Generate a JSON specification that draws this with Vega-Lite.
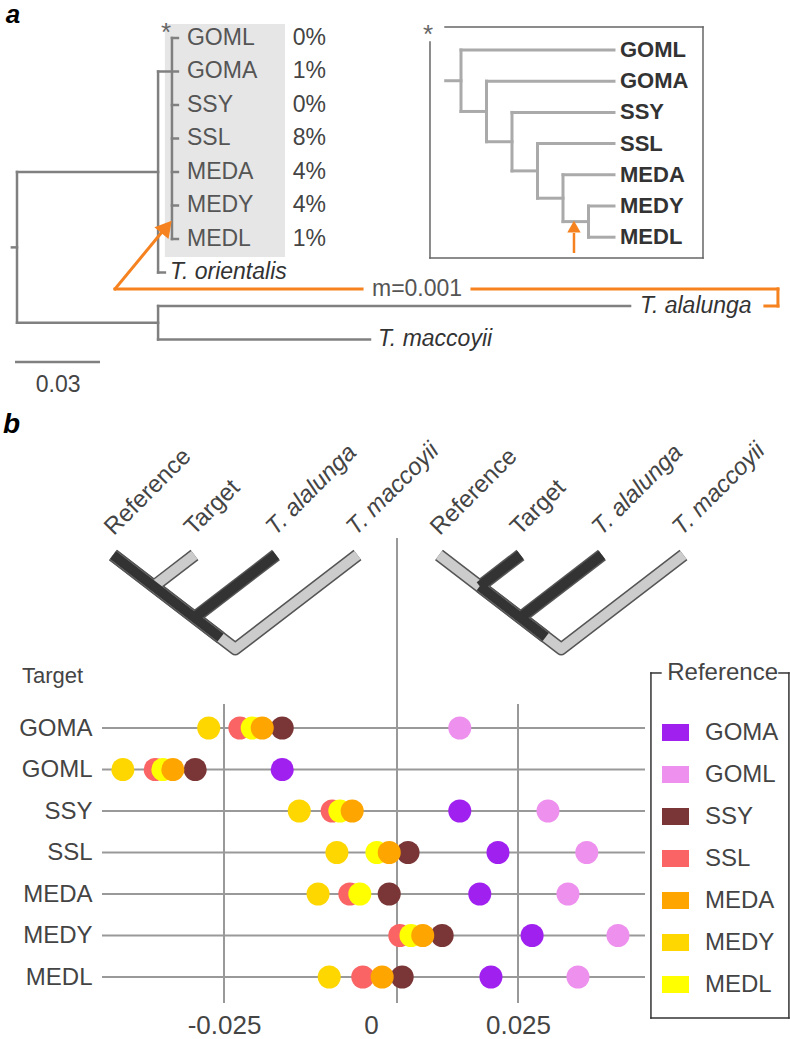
{
  "$schema": "https://vega.github.io/schema/vega-lite/v6.json",
  "padding": 0,
  "background": "white",
  "spacing": 0,
  "config": {
    "view": {"stroke": null},
    "font": "Liberation Sans",
    "text": {"font": "Liberation Sans"},
    "axis": {"domain": false, "ticks": false, "grid": false, "labelFont": "Liberation Sans", "labelColor": "#444444"},
    "axisX": {"labelFontSize": 26, "labelPadding": 9},
    "axisY": {"labelFontSize": 24, "labelPadding": 10, "minExtent": 102},
    "legend": {"labelFont": "Liberation Sans", "titleFont": "Liberation Sans"},
    "concat": {"spacing": 0}
  },
  "datasets": {
    "grayBox": [{"x": 0.0522, "x2": 0.0946, "y": 0.582, "y2": 7.537}],
    "mainSeg": [
      {"x": -0.0018, "x2": 0, "y": 7.25, "y2": 7.25},
      {"x": 0, "x2": 0, "y": 5, "y2": 9.5},
      {"x": 0, "x2": 0.0498, "y": 5, "y2": 5},
      {"x": 0.0498, "x2": 0.0498, "y": 2, "y2": 8},
      {"x": 0.0498, "x2": 0.0568, "y": 2, "y2": 2},
      {"x": 0.0547, "x2": 0.0547, "y": 1, "y2": 7},
      {"x": 0.0547, "x2": 0.0568, "y": 1, "y2": 1},
      {"x": 0.0547, "x2": 0.0568, "y": 3, "y2": 3},
      {"x": 0.0547, "x2": 0.0568, "y": 4, "y2": 4},
      {"x": 0.0547, "x2": 0.0568, "y": 5, "y2": 5},
      {"x": 0.0547, "x2": 0.0568, "y": 6, "y2": 6},
      {"x": 0.0547, "x2": 0.0568, "y": 7, "y2": 7},
      {"x": 0.0498, "x2": 0.0522, "y": 8, "y2": 8},
      {"x": 0, "x2": 0.0498, "y": 9.5, "y2": 9.5},
      {"x": 0.0498, "x2": 0.0498, "y": 9, "y2": 10},
      {"x": 0.0498, "x2": 0.2164, "y": 9, "y2": 9},
      {"x": 0.0498, "x2": 0.1246, "y": 10, "y2": 10}
    ],
    "scaleBar": [{"x": -0.0007, "x2": 0.0293, "y": 10.67, "y2": 10.67}],
    "scaleLabel": [{"x": 0.0145, "y": 11.36, "text": "0.03"}],
    "tipLabels": [
      {"x": 0.06, "y": 1, "text": "GOML"},
      {"x": 0.06, "y": 2, "text": "GOMA"},
      {"x": 0.06, "y": 3, "text": "SSY"},
      {"x": 0.06, "y": 4, "text": "SSL"},
      {"x": 0.06, "y": 5, "text": "MEDA"},
      {"x": 0.06, "y": 6, "text": "MEDY"},
      {"x": 0.06, "y": 7, "text": "MEDL"}
    ],
    "pctLabels": [
      {"x": 0.1091, "y": 1, "text": "0%"},
      {"x": 0.1091, "y": 2, "text": "1%"},
      {"x": 0.1091, "y": 3, "text": "0%"},
      {"x": 0.1091, "y": 4, "text": "8%"},
      {"x": 0.1091, "y": 5, "text": "4%"},
      {"x": 0.1091, "y": 6, "text": "4%"},
      {"x": 0.1091, "y": 7, "text": "1%"}
    ],
    "species": [
      {"x": 0.054, "y": 8, "text": "T. orientalis"},
      {"x": 0.2199, "y": 9, "text": "T. alalunga"},
      {"x": 0.1274, "y": 10, "text": "T. maccoyii"}
    ],
    "migSeg": [
      {"x": 0.0346, "x2": 0.0515, "y": 8.49, "y2": 6.76},
      {"x": 0.0346, "x2": 0.1218, "y": 8.49, "y2": 8.49},
      {"x": 0.1606, "x2": 0.2686, "y": 8.49, "y2": 8.49},
      {"x": 0.2686, "x2": 0.2686, "y": 8.49, "y2": 9.0},
      {"x": 0.264, "x2": 0.2686, "y": 9.0, "y2": 9.0}
    ],
    "migArrow": [{"x": 0.0528, "y": 6.64}],
    "migLabel": [{"x": 0.1253, "y": 8.49, "text": "m=0.001"}],
    "starMain": [{"x": 0.0526, "y": 0.85, "text": "*"}],
    "panelLabelA": [{"x": -0.0014, "y": 0.313, "text": "a"}],
    "insetBox": [
      {"x": -0.627, "x2": 9.49, "y": 0.263, "y2": 0.263},
      {"x": 9.49, "x2": 9.49, "y": 0.263, "y2": 7.667},
      {"x": -1.216, "x2": 9.49, "y": 7.667, "y2": 7.667},
      {"x": -1.216, "x2": -1.216, "y": 0.744, "y2": 7.667}
    ],
    "insetSeg": [
      {"x": -0.6, "x2": 0, "y": 1.985, "y2": 1.985},
      {"x": 0, "x2": 0, "y": 1, "y2": 2.97},
      {"x": 0, "x2": 6, "y": 1, "y2": 1},
      {"x": 0, "x2": 1, "y": 2.97, "y2": 2.97},
      {"x": 1, "x2": 1, "y": 2, "y2": 3.94},
      {"x": 1, "x2": 6, "y": 2, "y2": 2},
      {"x": 1, "x2": 2, "y": 3.94, "y2": 3.94},
      {"x": 2, "x2": 2, "y": 3, "y2": 4.875},
      {"x": 2, "x2": 6, "y": 3, "y2": 3},
      {"x": 2, "x2": 3, "y": 4.875, "y2": 4.875},
      {"x": 3, "x2": 3, "y": 4, "y2": 5.75},
      {"x": 3, "x2": 6, "y": 4, "y2": 4},
      {"x": 3, "x2": 4, "y": 5.75, "y2": 5.75},
      {"x": 4, "x2": 4, "y": 5, "y2": 6.5},
      {"x": 4, "x2": 6, "y": 5, "y2": 5},
      {"x": 4, "x2": 5, "y": 6.5, "y2": 6.5},
      {"x": 5, "x2": 5, "y": 6, "y2": 7},
      {"x": 5, "x2": 6, "y": 6, "y2": 6},
      {"x": 5, "x2": 6, "y": 7, "y2": 7}
    ],
    "insetLabels": [
      {"x": 6.235, "y": 1, "text": "GOML"},
      {"x": 6.235, "y": 2, "text": "GOMA"},
      {"x": 6.235, "y": 3, "text": "SSY"},
      {"x": 6.235, "y": 4, "text": "SSL"},
      {"x": 6.235, "y": 5, "text": "MEDA"},
      {"x": 6.235, "y": 6, "text": "MEDY"},
      {"x": 6.235, "y": 7, "text": "MEDL"}
    ],
    "insetArrowLine": [{"x": 4.431, "x2": 4.431, "y": 7.506, "y2": 6.865}],
    "insetArrowHead": [{"x": 4.431, "y": 6.66}],
    "insetStar": [{"x": -1.294, "y": 0.52, "text": "*"}],
    "divider": [{"p": 3.485, "h": -0.272, "h2": 7.157}],
    "legendBox": [
      {"p": 6.601, "p2": 6.724, "h": 1.885, "h2": 1.885},
      {"p": 8.172, "p2": 8.294, "h": 1.885, "h2": 1.885},
      {"p": 8.294, "p2": 8.294, "h": 1.885, "h2": 7.396},
      {"p": 6.601, "p2": 8.294, "h": 7.396, "h2": 7.396},
      {"p": 6.601, "p2": 6.601, "h": 1.885, "h2": 7.396}
    ],
    "cladoPaths": [
      {"path": "L_V", "order": 0, "p": 0, "h": 0, "tone": "light"},
      {"path": "L_V", "order": 1, "p": 1.5, "h": 1.5, "tone": "light"},
      {"path": "L_V", "order": 2, "p": 3, "h": 0, "tone": "light"},
      {"path": "L_T", "order": 0, "p": 1, "h": 0, "tone": "light"},
      {"path": "L_T", "order": 1, "p": 0.5, "h": 0.5, "tone": "light"},
      {"path": "L_A", "order": 0, "p": 2, "h": 0, "tone": "dark"},
      {"path": "L_A", "order": 1, "p": 1, "h": 1, "tone": "dark"},
      {"path": "L_R", "order": 0, "p": 0, "h": 0, "tone": "dark"},
      {"path": "L_R", "order": 1, "p": 1.32, "h": 1.32, "tone": "dark"},
      {"path": "R_V", "order": 0, "p": 4, "h": 0, "tone": "light"},
      {"path": "R_V", "order": 1, "p": 5.5, "h": 1.5, "tone": "light"},
      {"path": "R_V", "order": 2, "p": 7, "h": 0, "tone": "light"},
      {"path": "R_T", "order": 0, "p": 5, "h": 0, "tone": "dark"},
      {"path": "R_T", "order": 1, "p": 4.5, "h": 0.5, "tone": "dark"},
      {"path": "R_A", "order": 0, "p": 6, "h": 0, "tone": "dark"},
      {"path": "R_A", "order": 1, "p": 5, "h": 1, "tone": "dark"},
      {"path": "R_R", "order": 0, "p": 4.5, "h": 0.5, "tone": "dark"},
      {"path": "R_R", "order": 1, "p": 5.31, "h": 1.31, "tone": "dark"}
    ],
    "cladoNames": [
      {"p": 0.01, "h": -0.3, "text": "Reference"},
      {"p": 0.99, "h": -0.3, "text": "Target"},
      {"p": 4.01, "h": -0.3, "text": "Reference"},
      {"p": 4.99, "h": -0.3, "text": "Target"}
    ],
    "cladoSpecies": [
      {"p": 1.99, "h": -0.3, "text": "T. alalunga"},
      {"p": 2.98, "h": -0.3, "text": "T. maccoyii"},
      {"p": 5.99, "h": -0.3, "text": "T. alalunga"},
      {"p": 6.98, "h": -0.3, "text": "T. maccoyii"}
    ],
    "panelLabelB": [{"p": -1.35, "h": -2.077, "text": "b"}],
    "targetTitle": [{"p": -1.117, "h": 1.933, "text": "Target"}],
    "targets": [
      {"target": "GOMA"}, {"target": "GOML"}, {"target": "SSY"}, {"target": "SSL"},
      {"target": "MEDA"}, {"target": "MEDY"}, {"target": "MEDL"}
    ],
    "grid": [
      {"v": -0.025, "top": "GOMA", "bottom": "MEDL"},
      {"v": 0.025, "top": "GOMA", "bottom": "MEDL"}
    ],
    "dots": [
      {"target": "GOMA", "ref": "SSY", "v": -0.0151},
      {"target": "GOMA", "ref": "SSL", "v": -0.0223},
      {"target": "GOMA", "ref": "MEDL", "v": -0.0202},
      {"target": "GOMA", "ref": "MEDA", "v": -0.0185},
      {"target": "GOMA", "ref": "MEDY", "v": -0.0276},
      {"target": "GOMA", "ref": "GOML", "v": 0.0151},
      {"target": "GOML", "ref": "SSY", "v": -0.0299},
      {"target": "GOML", "ref": "SSL", "v": -0.0367},
      {"target": "GOML", "ref": "MEDL", "v": -0.0354},
      {"target": "GOML", "ref": "MEDA", "v": -0.0337},
      {"target": "GOML", "ref": "MEDY", "v": -0.0422},
      {"target": "GOML", "ref": "GOMA", "v": -0.0151},
      {"target": "SSY", "ref": "SSL", "v": -0.0066},
      {"target": "SSY", "ref": "MEDL", "v": -0.0053},
      {"target": "SSY", "ref": "MEDA", "v": -0.0032},
      {"target": "SSY", "ref": "MEDY", "v": -0.0122},
      {"target": "SSY", "ref": "GOML", "v": 0.0301},
      {"target": "SSY", "ref": "GOMA", "v": 0.0151},
      {"target": "SSL", "ref": "SSY", "v": 0.0063},
      {"target": "SSL", "ref": "MEDL", "v": 0.001},
      {"target": "SSL", "ref": "MEDA", "v": 0.0031},
      {"target": "SSL", "ref": "MEDY", "v": -0.0058},
      {"target": "SSL", "ref": "GOML", "v": 0.0367},
      {"target": "SSL", "ref": "GOMA", "v": 0.0216},
      {"target": "MEDA", "ref": "SSY", "v": 0.0031},
      {"target": "MEDA", "ref": "SSL", "v": -0.0036},
      {"target": "MEDA", "ref": "MEDL", "v": -0.0019},
      {"target": "MEDA", "ref": "MEDY", "v": -0.009},
      {"target": "MEDA", "ref": "GOML", "v": 0.0335},
      {"target": "MEDA", "ref": "GOMA", "v": 0.0185},
      {"target": "MEDY", "ref": "SSY", "v": 0.0121},
      {"target": "MEDY", "ref": "SSL", "v": 0.0049},
      {"target": "MEDY", "ref": "MEDL", "v": 0.0068},
      {"target": "MEDY", "ref": "MEDA", "v": 0.0088},
      {"target": "MEDY", "ref": "GOML", "v": 0.042},
      {"target": "MEDY", "ref": "GOMA", "v": 0.0274},
      {"target": "MEDL", "ref": "SSY", "v": 0.0053},
      {"target": "MEDL", "ref": "SSL", "v": -0.0014},
      {"target": "MEDL", "ref": "MEDA", "v": 0.0019},
      {"target": "MEDL", "ref": "MEDY", "v": -0.0071},
      {"target": "MEDL", "ref": "GOML", "v": 0.0352},
      {"target": "MEDL", "ref": "GOMA", "v": 0.0204}
    ]
  },
  "vconcat": [
    {
      "width": 688,
      "height": 400,
      "layer": [
        {
          "encoding": {
            "x": {"field": "x", "type": "quantitative", "scale": {"domain": [0.030003, 0.27286], "nice": false, "zero": false}, "axis": null},
            "y": {"field": "y", "type": "quantitative", "scale": {"domain": [-0.1343, 11.806], "nice": false, "zero": false, "reverse": true}, "axis": null}
          },
          "layer": [
            {"data": {"name": "grayBox"}, "mark": {"type": "rect", "color": "#e6e6e6"}, "encoding": {"x2": {"field": "x2"}, "y2": {"field": "y2"}}},
            {"data": {"name": "mainSeg"}, "mark": {"type": "rule", "color": "#808080", "strokeWidth": 2.5, "strokeCap": "square"}, "encoding": {"x2": {"field": "x2"}, "y2": {"field": "y2"}}},
            {"data": {"name": "scaleBar"}, "mark": {"type": "rule", "color": "#808080", "strokeWidth": 2.5}, "encoding": {"x2": {"field": "x2"}, "y2": {"field": "y2"}}},
            {"data": {"name": "migSeg"}, "mark": {"type": "rule", "color": "#f5821f", "strokeWidth": 3, "strokeCap": "square"}, "encoding": {"x2": {"field": "x2"}, "y2": {"field": "y2"}}},
            {"data": {"name": "migArrow"}, "mark": {"type": "point", "shape": "triangle-up", "filled": true, "opacity": 1, "color": "#f5821f", "size": 340, "angle": 40}},
            {"data": {"name": "scaleLabel"}, "mark": {"type": "text", "fontSize": 23, "color": "#444444", "align": "center", "baseline": "middle"}, "encoding": {"text": {"field": "text"}}},
            {"data": {"name": "tipLabels"}, "mark": {"type": "text", "fontSize": 23, "color": "#555555", "align": "left", "baseline": "middle"}, "encoding": {"text": {"field": "text"}}},
            {"data": {"name": "pctLabels"}, "mark": {"type": "text", "fontSize": 23, "color": "#444444", "align": "right", "baseline": "middle"}, "encoding": {"text": {"field": "text"}}},
            {"data": {"name": "species"}, "mark": {"type": "text", "fontSize": 23, "fontStyle": "italic", "color": "#333333", "align": "left", "baseline": "middle"}, "encoding": {"text": {"field": "text"}}},
            {"data": {"name": "migLabel"}, "mark": {"type": "text", "fontSize": 23, "color": "#555555", "align": "left", "baseline": "middle"}, "encoding": {"text": {"field": "text"}}},
            {"data": {"name": "starMain"}, "mark": {"type": "text", "fontSize": 26, "color": "#666666", "align": "center", "baseline": "middle"}, "encoding": {"text": {"field": "text"}}},
            {"data": {"name": "panelLabelA"}, "mark": {"type": "text", "fontSize": 26, "fontWeight": "bold", "fontStyle": "italic", "color": "#000000", "align": "center", "baseline": "middle"}, "encoding": {"text": {"field": "text"}}}
          ]
        },
        {
          "encoding": {
            "x": {"field": "x", "type": "quantitative", "scale": {"domain": [-14.078, 12.902], "nice": false, "zero": false}, "axis": null},
            "y": {"field": "y", "type": "quantitative", "scale": {"domain": [-0.6026, 12.218], "nice": false, "zero": false, "reverse": true}, "axis": null}
          },
          "layer": [
            {"data": {"name": "insetBox"}, "mark": {"type": "rule", "color": "#666666", "strokeWidth": 1.5, "strokeCap": "square"}, "encoding": {"x2": {"field": "x2"}, "y2": {"field": "y2"}}},
            {"data": {"name": "insetSeg"}, "mark": {"type": "rule", "color": "#aaaaaa", "strokeWidth": 3, "strokeCap": "square"}, "encoding": {"x2": {"field": "x2"}, "y2": {"field": "y2"}}},
            {"data": {"name": "insetArrowLine"}, "mark": {"type": "rule", "color": "#f5821f", "strokeWidth": 2.5}, "encoding": {"x2": {"field": "x2"}, "y2": {"field": "y2"}}},
            {"data": {"name": "insetArrowHead"}, "mark": {"type": "point", "shape": "triangle-up", "filled": true, "opacity": 1, "color": "#f5821f", "size": 180}},
            {"data": {"name": "insetLabels"}, "mark": {"type": "text", "fontSize": 22, "fontWeight": "bold", "color": "#333333", "align": "left", "baseline": "middle"}, "encoding": {"text": {"field": "text"}}},
            {"data": {"name": "insetStar"}, "mark": {"type": "text", "fontSize": 26, "color": "#666666", "align": "center", "baseline": "middle"}, "encoding": {"text": {"field": "text"}}}
          ]
        }
      ],
      "resolve": {"scale": {"x": "independent", "y": "independent"}}
    },
    {
      "width": 543,
      "height": 603,
      "layer": [
        {
          "encoding": {
            "x": {"field": "p", "type": "quantitative", "scale": {"domain": [-0.135, 6.528], "nice": false, "zero": false}, "axis": null},
            "y": {"field": "h", "type": "quantitative", "scale": {"domain": [-2.476, 7.157], "nice": false, "zero": false, "reverse": true}, "axis": null}
          },
          "layer": [
            {"data": {"name": "divider"}, "mark": {"type": "rule", "color": "#999999", "strokeWidth": 2}, "encoding": {"y2": {"field": "h2"}}},
            {"data": {"name": "legendBox"}, "mark": {"type": "rule", "color": "#333333", "strokeWidth": 1.5, "strokeCap": "square"}, "encoding": {"x2": {"field": "p2"}, "y2": {"field": "h2"}}},
            {"data": {"name": "cladoPaths"}, "mark": {"type": "line", "color": "#555555", "strokeWidth": 13, "strokeCap": "butt", "strokeJoin": "round"}, "encoding": {"detail": {"field": "path", "type": "nominal"}, "order": {"field": "order", "type": "quantitative"}}},
            {"data": {"name": "cladoPaths"}, "transform": [{"filter": "datum.tone == 'light'"}], "mark": {"type": "line", "color": "#cccccc", "strokeWidth": 10, "strokeCap": "butt", "strokeJoin": "round"}, "encoding": {"detail": {"field": "path", "type": "nominal"}, "order": {"field": "order", "type": "quantitative"}}},
            {"data": {"name": "cladoPaths"}, "transform": [{"filter": "datum.tone == 'dark'"}], "mark": {"type": "line", "color": "#333333", "strokeWidth": 10, "strokeCap": "butt", "strokeJoin": "round"}, "encoding": {"detail": {"field": "path", "type": "nominal"}, "order": {"field": "order", "type": "quantitative"}}},
            {"data": {"name": "cladoNames"}, "mark": {"type": "text", "fontSize": 24, "color": "#444444", "align": "left", "baseline": "alphabetic", "angle": 315}, "encoding": {"text": {"field": "text"}}},
            {"data": {"name": "cladoSpecies"}, "mark": {"type": "text", "fontSize": 24, "fontStyle": "italic", "color": "#444444", "align": "left", "baseline": "alphabetic", "angle": 315}, "encoding": {"text": {"field": "text"}}},
            {"data": {"name": "panelLabelB"}, "mark": {"type": "text", "fontSize": 28, "fontWeight": "bold", "fontStyle": "italic", "color": "#000000", "align": "left", "baseline": "middle"}, "encoding": {"text": {"field": "text"}}},
            {"data": {"name": "targetTitle"}, "mark": {"type": "text", "fontSize": 22, "color": "#444444", "align": "left", "baseline": "middle"}, "encoding": {"text": {"field": "text"}}}
          ]
        },
        {
          "layer": [
            {
              "data": {"name": "targets"},
              "mark": {"type": "rule", "color": "#999999", "strokeWidth": 2},
              "encoding": {
                "y": {"field": "target", "type": "nominal", "title": null, "scale": {"type": "point", "domain": ["GOMA", "GOML", "SSY", "SSL", "MEDA", "MEDY", "MEDL"], "range": [328, 577], "padding": 0}}
              }
            },
            {
              "data": {"name": "grid"},
              "mark": {"type": "rule", "color": "#999999", "strokeWidth": 2, "yOffset": -24, "y2Offset": 26},
              "encoding": {
                "x": {"field": "v", "type": "quantitative", "title": null, "scale": {"domain": [-0.04575, 0.0466], "nice": false, "zero": false}, "axis": {"values": [-0.025, 0, 0.025], "labelExpr": "replace(format(datum.value, '~g'), '\u2212', '-')"}},
                "y": {"field": "top", "type": "nominal", "title": null, "scale": {"type": "point", "domain": ["GOMA", "GOML", "SSY", "SSL", "MEDA", "MEDY", "MEDL"], "range": [328, 577], "padding": 0}},
                "y2": {"field": "bottom"}
              }
            },
            {
              "data": {"name": "dots"},
              "mark": {"type": "point", "shape": "circle", "filled": true, "opacity": 1, "size": 530, "strokeWidth": 0},
              "encoding": {
                "x": {"field": "v", "type": "quantitative", "title": null, "scale": {"domain": [-0.04575, 0.0466], "nice": false, "zero": false}, "axis": {"values": [-0.025, 0, 0.025], "labelExpr": "replace(format(datum.value, '~g'), '\u2212', '-')"}},
                "y": {"field": "target", "type": "nominal", "title": null, "scale": {"type": "point", "domain": ["GOMA", "GOML", "SSY", "SSL", "MEDA", "MEDY", "MEDL"], "range": [328, 577], "padding": 0}},
                "color": {
                  "field": "ref", "type": "nominal",
                  "scale": {"domain": ["GOMA", "GOML", "SSY", "SSL", "MEDA", "MEDY", "MEDL"], "range": ["#a020f0", "#ee90ee", "#7a3636", "#fa6464", "#ffa500", "#ffd700", "#ffff00"]},
                  "legend": {"title": "Reference", "orient": "none", "legendX": 560, "legendY": 661, "symbolType": "M-1,-0.63H1V0.63H-1Z", "symbolSize": 729, "symbolStrokeWidth": 0, "symbolOpacity": 1, "labelFontSize": 24, "labelColor": "#444444", "labelOffset": 16, "titleFontSize": 24, "titleColor": "#444444", "titleFontWeight": "normal", "titleAnchor": "end", "titlePadding": 34, "rowPadding": 16, "padding": 0}
                }
              }
            }
          ]
        }
      ],
      "resolve": {"scale": {"x": "independent", "y": "independent"}}
    }
  ]
}
